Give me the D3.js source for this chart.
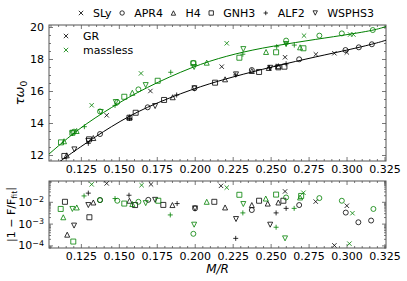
<!DOCTYPE html>
<html>
<head>
<meta charset="utf-8">
<script src="https://cdn.jsdelivr.net/npm/d3@7"></script>
<style>
  body { margin: 0; background: #fff; }
  svg { display: block; font-family: "DejaVu Sans", sans-serif; }
</style>
</head>
<body>
<svg width="407" height="281"></svg>
<script>
// equations of state and gravity models
const eosList = ['SLy', 'APR4', 'H4', 'GNH3', 'ALF2', 'WSPHS3'];
const models = ['GR', 'massless'];

// top panel: [eos, M/R, tau*omega0]
const topGR = [
  ['SLy',0.142,14.48],['SLy',0.1708,16.0],['SLy',0.2178,17.52],['SLy',0.2595,18.11],['SLy',0.2798,18.29],['SLy',0.292,18.36],['SLy',0.3002,18.41],
  ['APR4',0.1376,13.31],['APR4',0.169,14.98],['APR4',0.1998,16.17],['APR4',0.2376,17.31],['APR4',0.2688,17.98],['APR4',0.2993,18.56],['APR4',0.3081,18.73],['APR4',0.3167,18.92],
  ['H4',0.1157,11.98],['H4',0.1332,13.06],['H4',0.157,14.36],['H4',0.1855,15.61],['H4',0.22,16.73],['H4',0.2376,17.25],['H4',0.2488,17.44],['H4',0.2551,17.55],
  ['GNH3',0.1141,11.94],['GNH3',0.1304,12.98],['GNH3',0.157,14.33],['GNH3',0.1611,14.64],['GNH3',0.1798,15.44],['GNH3',0.2134,16.52],['GNH3',0.2424,17.19],['GNH3',0.2551,17.48],['GNH3',0.2591,17.52],
  ['ALF2',0.1299,12.73],['ALF2',0.157,14.28],['ALF2',0.1881,15.75],['ALF2',0.227,17.0],['ALF2',0.2492,17.46],['ALF2',0.2536,17.55],['ALF2',0.2602,17.7],
  ['WSPHS3',0.1207,12.35],['WSPHS3',0.1299,12.88],['WSPHS3',0.1739,15.06],['WSPHS3',0.1998,16.17],['WSPHS3',0.2272,17.04],['WSPHS3',0.2497,17.45]
];
const topMassless = [
  ['SLy',0.1321,15.11],['SLy',0.1646,17.1],['SLy',0.2211,18.98],['SLy',0.272,19.46],['SLy',0.3024,19.53],['SLy',0.3045,19.53],
  ['APR4',0.1205,13.46],['APR4',0.1376,14.72],['APR4',0.149,15.3],['APR4',0.1629,16.1],['APR4',0.1991,17.75],['APR4',0.2602,19.15],['APR4',0.2821,19.46],['APR4',0.2969,19.6],['APR4',0.3173,19.81],
  ['H4',0.1139,12.86],['H4',0.1222,13.5],['H4',0.1589,15.89],['H4',0.2079,17.77],['H4',0.247,18.44],['H4',0.2694,18.73],
  ['GNH3',0.1119,12.79],['GNH3',0.1194,13.39],['GNH3',0.1536,15.64],['GNH3',0.1756,16.64],['GNH3',0.1991,17.73],['GNH3',0.2294,18.08],['GNH3',0.2536,18.42],['GNH3',0.2716,18.67],
  ['ALF2',0.1273,13.77],['ALF2',0.1475,15.1],['ALF2',0.1842,17.17],['ALF2',0.2317,18.3],['ALF2',0.254,18.77],['ALF2',0.2602,18.94],['ALF2',0.2656,18.87],
  ['WSPHS3',0.1194,13.35],['WSPHS3',0.1381,14.69],['WSPHS3',0.148,15.31],['WSPHS3',0.1677,16.37],['WSPHS3',0.1996,17.5],['WSPHS3',0.232,18.62],['WSPHS3',0.2602,18.94]
];

// fit curves: [M/R, tau*omega0]
const fitGR = [[0.1105,11.55],[0.1233,12.42],[0.1453,13.82],[0.1673,14.98],[0.1991,16.15],[0.2211,16.78],
  [0.2431,17.33],[0.2749,18.04],[0.2969,18.48],[0.3188,18.96],[0.3265,19.19]];
const fitMassless = [[0.104,12.06],[0.1233,13.64],[0.1453,15.0],[0.1673,16.2],[0.1991,17.55],[0.2211,18.2],
  [0.2431,18.68],[0.2749,19.16],[0.2969,19.47],[0.3188,19.8],[0.3265,20.05]];

// bottom panel: [eos, M/R, |1 - F/Ffit|]
const resGR = [
  ['SLy',0.142,0.07],['SLy',0.1712,0.063],['SLy',0.2173,0.054],['SLy',0.2595,0.03],['SLy',0.2797,0.0102],['SLy',0.292,0.0001],['SLy',0.3002,0.0066],
  ['APR4',0.1376,0.012],['APR4',0.1694,0.0123],['APR4',0.2002,0.005],['APR4',0.2376,0.0042],['APR4',0.2688,0.0071],['APR4',0.2995,0.0032],['APR4',0.3078,0.00115],['APR4',0.3162,0.00138],
  ['H4',0.116,0.00031],['H4',0.1332,0.0093],['H4',0.157,0.0112],['H4',0.1853,0.0071],['H4',0.22,0.0055],['H4',0.2376,0.0071],['H4',0.2481,0.0083],['H4',0.2551,0.0093],
  ['GNH3',0.1145,0.01],['GNH3',0.1306,0.00195],['GNH3',0.1607,0.0071],['GNH3',0.1793,0.0072],['GNH3',0.2129,0.01],['GNH3',0.2424,0.0112],['GNH3',0.2584,0.0112],
  ['ALF2',0.1299,0.025],['ALF2',0.1567,0.02],['ALF2',0.1884,0.0083],['ALF2',0.227,0.00021],['ALF2',0.2536,0.0031],['ALF2',0.2602,0.005],
  ['WSPHS3',0.1205,0.00081],['WSPHS3',0.1299,0.0071],['WSPHS3',0.1739,0.0123],['WSPHS3',0.2002,0.005],['WSPHS3',0.2272,0.00162],['WSPHS3',0.2497,0.00089]
];
const resMassless = [
  ['SLy',0.1321,0.063],['SLy',0.165,0.058],['SLy',0.2211,0.045],['SLy',0.2716,0.026],['SLy',0.3019,0.00012],['SLy',0.3039,0.003],
  ['APR4',0.1376,0.012],['APR4',0.149,0.0112],['APR4',0.1629,0.01],['APR4',0.1991,0.00034],['APR4',0.2602,0.0158],['APR4',0.2821,0.0148],['APR4',0.2969,0.0112],['APR4',0.3177,0.0047],
  ['H4',0.1134,0.00195],['H4',0.1223,0.0055],['H4',0.1589,0.0079],['H4',0.2079,0.01],['H4',0.2468,0.0141],['H4',0.2694,0.0158],
  ['GNH3',0.1117,0.0047],['GNH3',0.12,0.00015],['GNH3',0.1536,0.0083],['GNH3',0.176,0.0112],['GNH3',0.2294,0.021],['GNH3',0.2536,0.0214],['GNH3',0.2701,0.0186],
  ['ALF2',0.1271,0.0186],['ALF2',0.1475,0.0141],['ALF2',0.1839,0.0025],['ALF2',0.2317,0.0031],['ALF2',0.2536,0.00068],['ALF2',0.2655,0.005],
  ['WSPHS3',0.1194,0.0047],['WSPHS3',0.1677,0.0087],['WSPHS3',0.1996,0.00089],['WSPHS3',0.232,0.0079],['WSPHS3',0.2595,0.00021]
];

const colors = {GR: '#000000', massless: '#008000'};

const svg = d3.select('svg');
const left = 49, right = 386;
const topT = 25, topB = 161;
const botT = 181, botB = 248;

const x = d3.scaleLinear().domain([0.104, 0.326]).range([left, right]);
const yTop = d3.scaleLinear().domain([11.625, 20.125]).range([topB, topT]);
const yBot = d3.scaleLog().domain([Math.pow(10, -4.12), Math.pow(10, -1.045)]).range([botB, botT]);

// marker shapes, matplotlib style
function marker(eos, r) {
  switch (eos) {
    case 'SLy': return `M${-r},${-r}L${r},${r}M${-r},${r}L${r},${-r}`;
    case 'APR4': return `M${r},0A${r},${r} 0 1,1 ${-r},0A${r},${r} 0 1,1 ${r},0Z`;
    case 'H4': return `M0,${-r}L${r},${r}L${-r},${r}Z`;
    case 'GNH3': return `M${-r},${-r}H${r}V${r}H${-r}Z`;
    case 'ALF2': return `M${-r},0H${r}M0,${-r}V${r}`;
    case 'WSPHS3': return `M0,${r}L${r},${-r}L${-r},${-r}Z`;
  }
}

const axisCol = '#555';

function frame(yScale, t, b, isLog) {
  const g = svg.append('g');
  const xMajor = d3.range(0.125, 0.3251, 0.025);
  const xMinor = d3.range(0.105, 0.326, 0.005).filter(v => !xMajor.some(m => Math.abs(m - v) < 1e-6));

  g.append('g').attr('transform', `translate(0,${b})`)
    .call(d3.axisBottom(x).tickValues(xMajor).tickSize(-4).tickPadding(4).tickFormat(d3.format('.3f')));
  g.append('g').attr('transform', `translate(0,${b})`)
    .call(d3.axisBottom(x).tickValues(xMinor).tickSize(-2).tickFormat(''));
  g.append('g').attr('transform', `translate(0,${t})`)
    .call(d3.axisTop(x).tickValues(xMajor).tickSize(-4).tickFormat(''));
  g.append('g').attr('transform', `translate(0,${t})`)
    .call(d3.axisTop(x).tickValues(xMinor).tickSize(-2).tickFormat(''));

  let yMajor, yMinor;
  if (isLog) {
    yMajor = [1e-4, 1e-3, 1e-2];
    yMinor = [];
    for (let e = -5; e <= -2; e++) for (let k = 2; k <= 9; k++) yMinor.push(k * Math.pow(10, e));
    const dom = yScale.domain();
    yMinor = yMinor.filter(v => v > dom[0] && v < dom[1]);
  } else {
    yMajor = [12, 14, 16, 18, 20];
    yMinor = d3.range(12, 20.01, 0.5).filter(v => v % 2 !== 0);
  }
  const ay = g.append('g').attr('transform', `translate(${left},0)`)
    .call(d3.axisLeft(yScale).tickValues(yMajor).tickSize(-4).tickPadding(5)
      .tickFormat(isLog ? () => '' : d3.format('d')));
  g.append('g').attr('transform', `translate(${left},0)`)
    .call(d3.axisLeft(yScale).tickValues(yMinor).tickSize(-2).tickFormat(''));
  g.append('g').attr('transform', `translate(${right},0)`)
    .call(d3.axisRight(yScale).tickValues(yMajor).tickSize(-4).tickFormat(''));
  g.append('g').attr('transform', `translate(${right},0)`)
    .call(d3.axisRight(yScale).tickValues(yMinor).tickSize(-2).tickFormat(''));

  if (isLog) {
    ay.selectAll('.tick text').each(function(d) {
      const txt = d3.select(this);
      txt.text('10');
      txt.append('tspan').attr('dy', '-0.45em').attr('font-size', '0.72em')
        .text('\u2212' + Math.round(-Math.log10(d)));
    });
  }

  g.selectAll('.domain').attr('stroke', 'none');
  g.selectAll('.tick line').attr('stroke', axisCol).attr('stroke-width', 0.8);
  g.selectAll('.tick text').attr('font-size', 11).attr('fill', '#000')
    .attr('font-family', '"DejaVu Sans", sans-serif');
  g.append('rect').attr('x', left).attr('y', t).attr('width', right - left).attr('height', b - t)
    .attr('fill', 'none').attr('stroke', axisCol).attr('stroke-width', 1);
}

// clip paths
const defs = svg.append('defs');
defs.append('clipPath').attr('id', 'clipTop').append('rect')
  .attr('x', left).attr('y', topT).attr('width', right - left).attr('height', topB - topT);
defs.append('clipPath').attr('id', 'clipBot').append('rect')
  .attr('x', left).attr('y', botT).attr('width', right - left).attr('height', botB - botT);

frame(yTop, topT, topB, false);
frame(yBot, botT, botB, true);

// fit lines
const line = d3.line().x(d => x(d[0])).y(d => yTop(d[1])).curve(d3.curveBasis);
const gTop = svg.append('g').attr('clip-path', 'url(#clipTop)');
gTop.append('path').datum(fitGR).attr('d', line).attr('fill', 'none')
  .attr('stroke', colors.GR).attr('stroke-width', 1);
gTop.append('path').datum(fitMassless).attr('d', line).attr('fill', 'none')
  .attr('stroke', colors.massless).attr('stroke-width', 1);

function drawPoints(g, data, yScale, color) {
  g.selectAll(null).data(data).enter().append('path')
    .attr('transform', d => `translate(${x(d[1])},${yScale(d[2])})`)
    .attr('d', d => marker(d[0], d[0] === 'SLy' ? 2.2 : 2.5))
    .attr('fill', 'none').attr('stroke', color).attr('stroke-width', 0.8);
}
drawPoints(gTop, topGR, yTop, colors.GR);
drawPoints(gTop, topMassless, yTop, colors.massless);

const gBot = svg.append('g').attr('clip-path', 'url(#clipBot)');
drawPoints(gBot, resGR, yBot, colors.GR);
drawPoints(gBot, resMassless, yBot, colors.massless);

// inner legend (GR / massless)
models.forEach((m, i) => {
  const yy = 36 + i * 14;
  svg.append('path').attr('transform', `translate(66,${yy})`).attr('d', marker('SLy', 2.2))
    .attr('fill', 'none').attr('stroke', colors[m]).attr('stroke-width', 0.8);
  svg.append('text').attr('x', 83).attr('y', yy).attr('dy', '0.35em')
    .attr('font-size', 11).text(m);
});

// top legend (equations of state)
let lx = 81;
eosList.forEach(e => {
  svg.append('path').attr('transform', `translate(${lx},13)`).attr('d', marker(e, 2.2))
    .attr('fill', 'none').attr('stroke', '#000').attr('stroke-width', 0.8);
  const t = svg.append('text').attr('x', lx + 12).attr('y', 13).attr('dy', '0.35em')
    .attr('font-size', 11).text(e);
  lx = lx + 12 + t.node().getComputedTextLength() + 10.5;
});

// axis labels
const yl = svg.append('text').attr('transform', `translate(24,${(topT + topB) / 2}) rotate(-90)`)
  .attr('text-anchor', 'middle').attr('font-size', 13);
yl.append('tspan').attr('font-style', 'italic').text('\u03c4\u03c9');
yl.append('tspan').attr('dy', '0.3em').attr('font-size', '0.7em').text('0');

const yl2 = svg.append('text').attr('transform', `translate(15,${(botT + botB) / 2}) rotate(-90)`)
  .attr('text-anchor', 'middle').attr('font-size', 11);
yl2.append('tspan').text('|1 \u2212 F/F');
yl2.append('tspan').attr('dy', '0.3em').attr('font-size', '0.7em').text('fit');
yl2.append('tspan').attr('dy', '-0.3em').text('|');

svg.append('text').attr('x', (left + right) / 2).attr('y', 273)
  .attr('text-anchor', 'middle').attr('font-size', 12).attr('font-style', 'italic').text('M/R');
</script>
</body>
</html>
